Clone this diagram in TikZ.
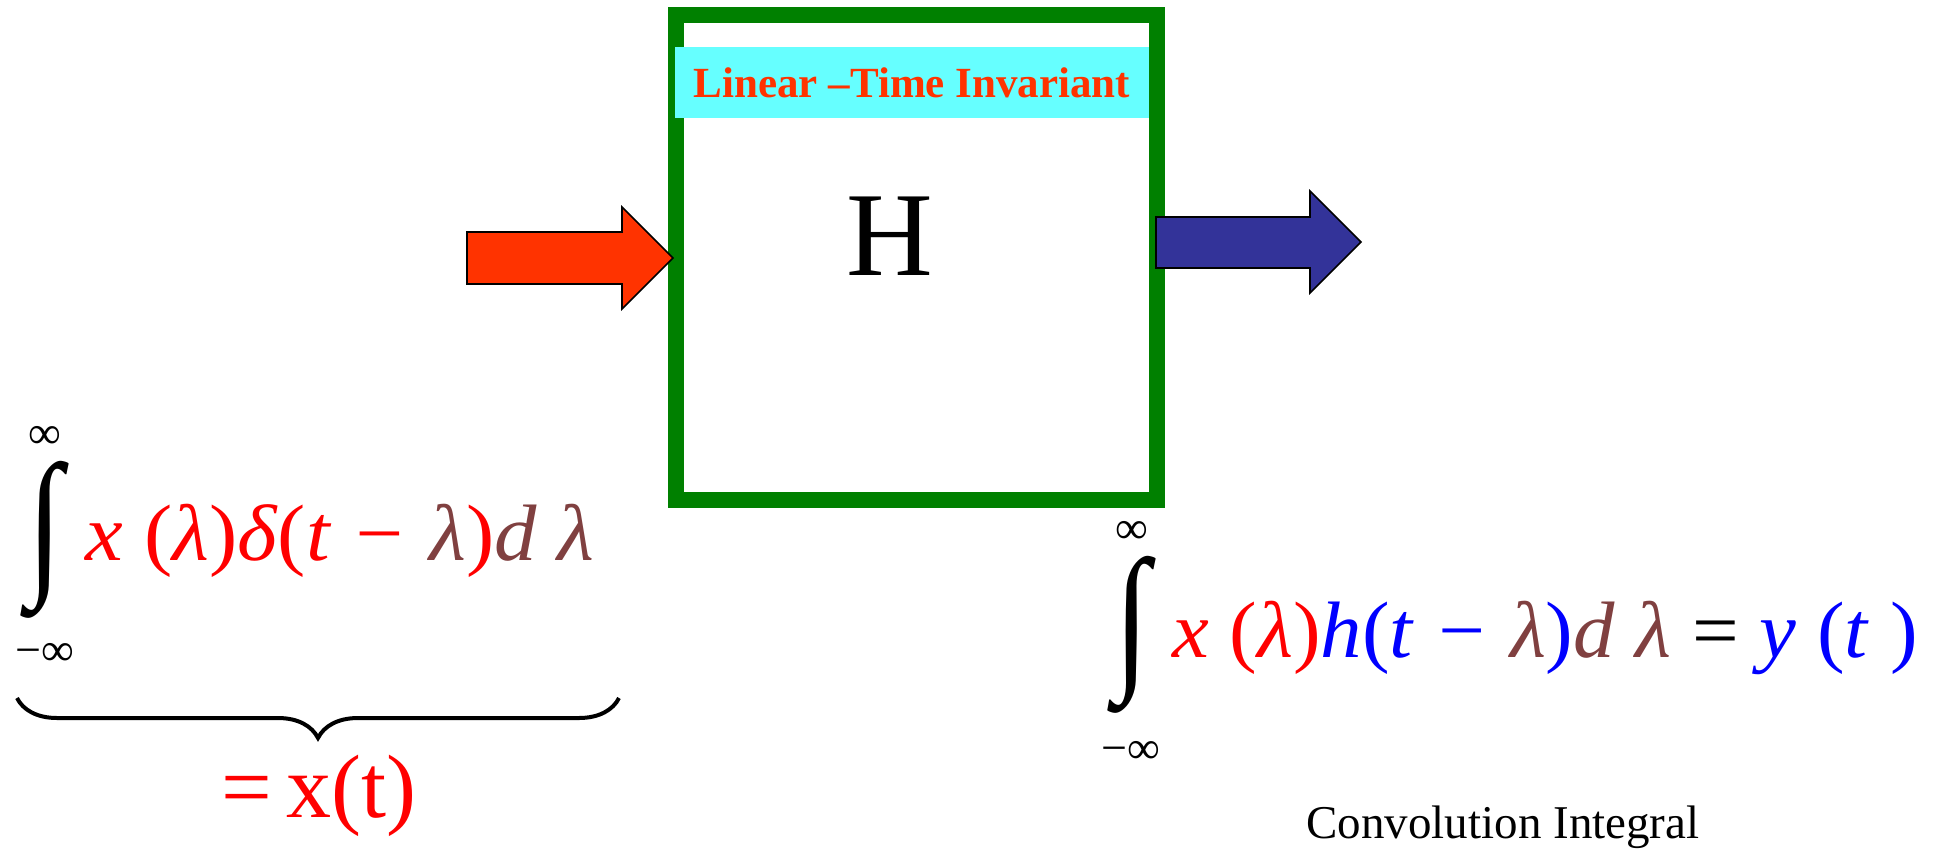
\documentclass[tikz,border=0pt]{standalone}
\usepackage{fontspec}
\setmainfont{Liberation Serif}
\usetikzlibrary{positioning,decorations.pathreplacing}
\definecolor{boxgreen}{RGB}{0,128,0}
\definecolor{barcyan}{RGB}{102,255,255}
\definecolor{ltired}{RGB}{255,51,0}
\definecolor{outblue}{RGB}{51,51,153}
\definecolor{xred}{RGB}{255,0,0}
\definecolor{lbrown}{RGB}{128,64,64}
\definecolor{hblue}{RGB}{0,0,255}
\newcommand{\opar}{\textup{(}}
\newcommand{\cpar}{\textup{)}}
\newcommand{\bigint}{\scalebox{1.6}[2.0]{\bfseries ∫}}

\begin{document}
\begin{tikzpicture}[x=0.5pt,y=-0.5pt,
  every node/.style={inner sep=0pt},
  sysbox/.style={draw=boxgreen,line width=8pt,minimum width=240.5pt,minimum height=242.5pt},
  ltibar/.style={fill=barcyan,minimum width=237pt,minimum height=35.5pt,text=ltired,font=\fontsize{21.5}{21.5}\selectfont\bfseries},
  blockarr/.style={draw=black,line width=0.8pt,line join=miter},
  eqn/.style={anchor=base west,font=\fontsize{40}{40}\selectfont\itshape},
  intsign/.style={font=\fontsize{40}{40}\selectfont},
  limit/.style={font=\fontsize{23}{23}\selectfont},
  brc/.style={decorate,decoration={brace,mirror,amplitude=20pt},line width=2pt}
]
  \useasboundingbox (0,0) rectangle (1936,851);
  \node[sysbox] (sys) at (916.5,257.5) {};
  \node[ltibar] (lti) at (912,82.5) {Linear –Time Invariant};
  \node[anchor=base,font=\fontsize{60}{60}\selectfont] (h) at (890,275) {H};
  \filldraw[blockarr,fill=ltired] (467,232) -- (622,232) -- (622,207) -- (673,258)
    -- (622,309) -- (622,284) -- (467,284) -- cycle;
  \filldraw[blockarr,fill=outblue] (1156,217) -- (1310,217) -- (1310,191) -- (1361,242)
    -- (1310,293) -- (1310,268) -- (1156,268) -- cycle;

  \node[intsign] (intl) at (45,540) {\bigint};
  \node[limit] (intlup) at (45,437) {∞};
  \node[limit] (intllo) at (45,654) {−∞};
  \node[eqn] (convin) at (85,560) {\scalebox{1.06}[1]{\textcolor{xred}{x \opar λ\cpar δ\opar t − }\textcolor{lbrown}{λ}\textcolor{xred}{\cpar}\textcolor{lbrown}{d λ}}};
  \coordinate (brl) at (17,698);
  \coordinate (brr) at (619,698);
  \draw[brc] (brl) -- (brr);
  \node[anchor=base,text=xred,font=\fontsize{45}{45}\selectfont] (xt) at (319,817) {=\hspace{0.15em}x(t)};

  \node[intsign] (intr) at (1132,635) {\bigint};
  \node[limit] (intrup) at (1132,532) {∞};
  \node[limit] (intrlo) at (1131,752) {−∞};
  \node[eqn] (convout) at (1172,657) {\scalebox{1.035}[1]{\textcolor{xred}{x \opar λ\cpar}\textcolor{hblue}{h\opar t − }\textcolor{lbrown}{λ}\textcolor{hblue}{\cpar}\textcolor{lbrown}{d λ}\textup{ = }\textcolor{hblue}{y \opar t \cpar}}};
  \node[anchor=base,font=\fontsize{23.5}{23.5}\selectfont] (convlbl) at (1503,838) {Convolution Integral};
\end{tikzpicture}
\end{document}
